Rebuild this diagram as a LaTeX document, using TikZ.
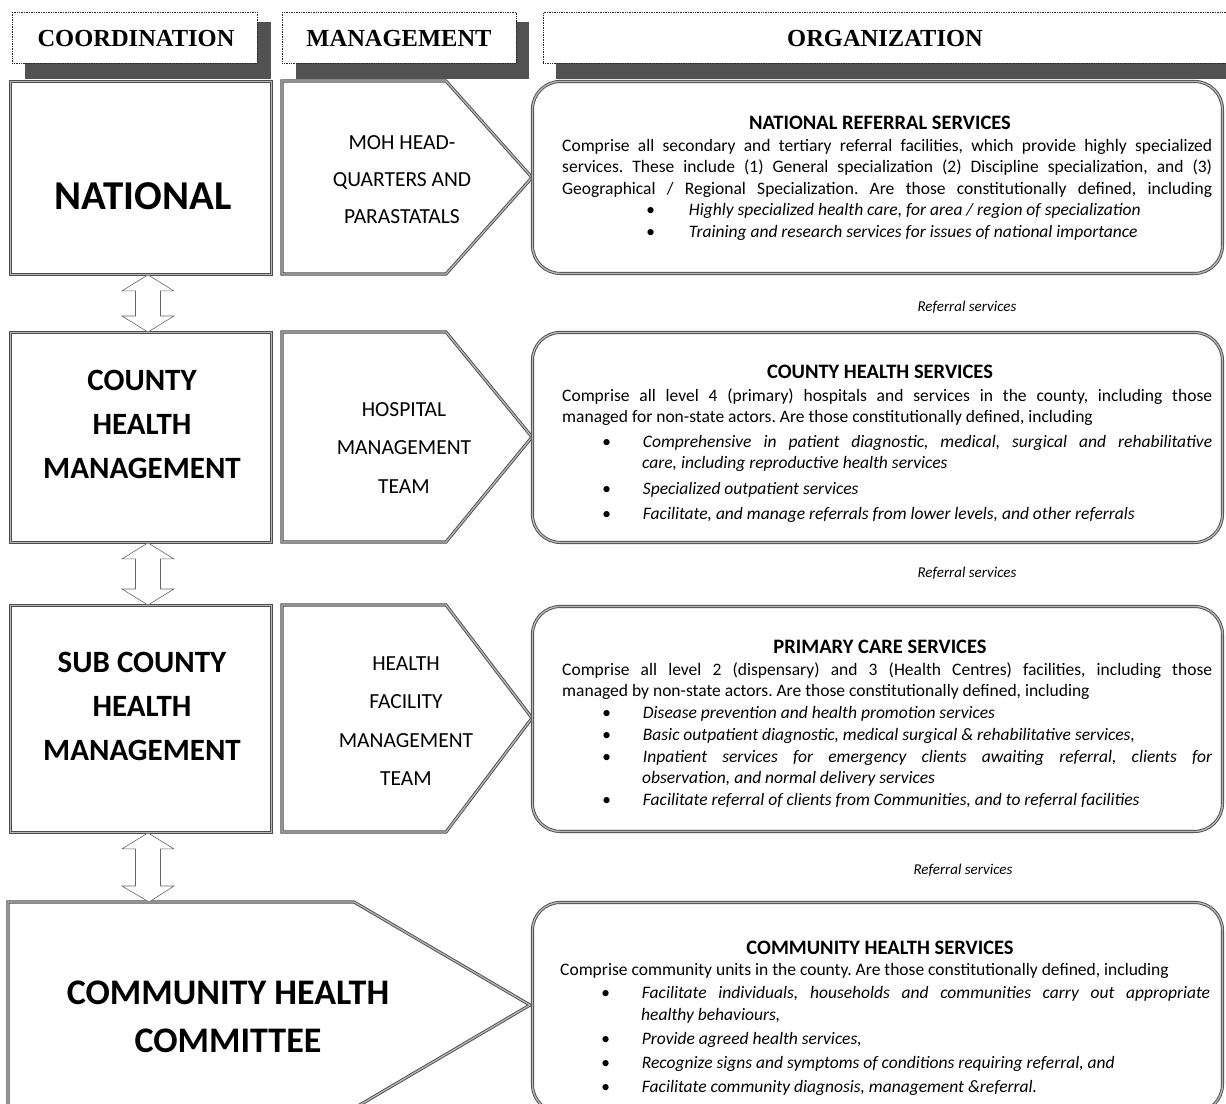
\documentclass[tikz,border=0pt]{standalone}
\usepackage{fontspec}
\setmainfont{Carlito}
\newfontfamily\hdrfont{Liberation Serif}
\usetikzlibrary{calc}
\newcommand\bodysetup{\tolerance=10000 \hyphenpenalty=10000 \emergencystretch=20pt \frenchspacing\relax}
\newenvironment{blist}[4]{\begin{list}{\textbullet}{\setlength\leftmargin{#1}\setlength\labelwidth{8pt}\setlength\labelsep{#2}\setlength\itemsep{#3}\setlength\topsep{#4}\setlength\parsep{0pt}\setlength\partopsep{0pt}\setlength\itemindent{0pt}\setlength\listparindent{0pt}}\itshape}{\end{list}}
\newcommand\updown[2]{%
  \draw[dblarrow] let \p1=(#1), \p2=(#2) in
   (\x1,\y1) -- (\x1+26pt,\y1-16pt) -- (\x1+12.5pt,\y1-16pt) -- (\x1+12.5pt,\y2+16pt)
   -- (\x1+26pt,\y2+16pt) -- (\x2,\y2) -- (\x1-26pt,\y2+16pt) -- (\x1-12.5pt,\y2+16pt)
   -- (\x1-12.5pt,\y1-16pt) -- (\x1-26pt,\y1-16pt) -- cycle;}
\begin{document}
\begin{tikzpicture}[x=1pt,y=-1pt,
  hdrshadow/.style={fill=black!68, draw=none},
  hdrbox/.style={fill=white, draw=black!85, densely dotted, line width=0.7pt},
  hdrtxt/.style={font=\hdrfont\bfseries\fontsize{24.5}{28}\selectfont},
  frame/.style={draw=black!70, line width=0.9pt, double=black!28, double distance=1.3pt, fill=white},
  box/.style={frame, rectangle, inner sep=0pt, anchor=north west},
  orgbox/.style={frame, rectangle, rounded corners=28pt, inner sep=0pt, anchor=north west},
  dblarrow/.style={draw=black!60, line width=0.6pt, fill=white},
  bigtxt/.style={font=\bfseries\fontsize{41}{46}\selectfont, align=center},
  lefttxt/.style={font=\bfseries\fontsize{31}{44}\selectfont, align=center},
  commtxt/.style={font=\bfseries\fontsize{36}{48}\selectfont, align=center},
  mgmttxt/.style={font=\fontsize{21.5}{37}\selectfont, align=center},
  mgmttxtb/.style={font=\fontsize{21.5}{38.5}\selectfont, align=center},
  titletxt/.style={font=\bfseries\fontsize{20.5}{24}\selectfont},
  bodytxt/.style={text width=650pt, align=justify, inner sep=0pt, anchor=north west,
     font=\fontsize{17.5}{21.5}\selectfont\bodysetup},
  reftxt/.style={font=\itshape\fontsize{15}{18}\selectfont}
]
\clip (0,0) rectangle (1226,1103);
\useasboundingbox (0,0) rectangle (1226,1103);
\fill[white] (0,0) rectangle (1226,1103);

% ---------- headers ----------
\fill[hdrshadow] (25,22) rectangle (271,79);
\node[hdrbox, rectangle, minimum width=245pt, minimum height=51pt, anchor=north west] (hcoord) at (12,12) {};
\node[hdrtxt] (hcoordt) at (136,39) {COORDINATION};
\fill[hdrshadow] (296,22) rectangle (529,79);
\node[hdrbox, rectangle, minimum width=234pt, minimum height=51pt, anchor=north west] (hman) at (282,12) {};
\node[hdrtxt] (hmant) at (399,39) {MANAGEMENT};
\fill[hdrshadow] (556,22) rectangle (1240,79);
\node[hdrbox, rectangle, minimum width=700pt, minimum height=51pt, anchor=north west] (horg) at (543,12) {};
\node[hdrtxt] (horgt) at (885,39) {ORGANIZATION};

% ---------- row 1: national ----------
\node[box, minimum width=261pt, minimum height=193pt] (nat) at (10,81) {};
\node[bigtxt] (natt) at (143,196) {NATIONAL};
\draw[frame] (282,81) -- (446,81) -- (532,177.5) -- (446,274) -- (282,274) -- cycle;
\node[mgmttxt] (moh) at (402,180) {MOH HEAD-\\QUARTERS AND\\PARASTATALS};
\node[orgbox, minimum width=690pt, minimum height=192pt] (nrs) at (532,81) {};
\node[titletxt] (nrst) at (880,123) {NATIONAL REFERRAL SERVICES};
\node[bodytxt] (nrsb) at (562,139) {{\parfillskip=0pt Comprise all secondary and tertiary referral facilities, which provide highly specialized\linebreak services. These include (1) General specialization (2) Discipline specialization, and (3)\linebreak Geographical / Regional Specialization. Are those constitutionally defined, including\par}
\begin{blist}{126pt}{34pt}{0pt}{0pt}
\item Highly specialized health care, for area / region of specialization
\item Training and research services for issues of national importance
\end{blist}};
\node[reftxt] (ref1) at (967,307) {Referral services};

% ---------- row 2: county ----------
\node[box, minimum width=261pt, minimum height=210pt] (cty) at (10,332) {};
\node[lefttxt] (ctyt) at (142,424) {COUNTY\\HEALTH\\MANAGEMENT};
\draw[frame] (282,332) -- (446,332) -- (532,437) -- (446,542) -- (282,542) -- cycle;
\node[mgmttxtb] (hmt) at (404,448) {HOSPITAL\\MANAGEMENT\\TEAM};
\node[orgbox, minimum width=690pt, minimum height=210pt] (chs) at (532,332) {};
\node[titletxt] (chst) at (880,372) {COUNTY HEALTH SERVICES};
\node[bodytxt] (chsb) at (562,388) {Comprise all level 4 (primary) hospitals and services in the county, including those\linebreak managed for non-state actors. Are those constitutionally defined, including
\begin{blist}{80pt}{32pt}{4pt}{3pt}
\item Comprehensive in patient diagnostic, medical, surgical and rehabilitative\linebreak care, including reproductive health services
\item Specialized outpatient services
\item Facilitate, and manage referrals from lower levels, and other referrals
\end{blist}};
\node[reftxt] (ref2) at (967,573) {Referral services};

% ---------- row 3: sub county ----------
\node[box, minimum width=261pt, minimum height=227pt] (sub) at (10,605) {};
\node[lefttxt] (subt) at (142,706) {SUB COUNTY\\HEALTH\\MANAGEMENT};
\draw[frame] (282,605) -- (446,605) -- (532,718) -- (446,832) -- (282,832) -- cycle;
\node[mgmttxtb] (hfmt) at (406,721) {HEALTH\\FACILITY\\MANAGEMENT\\TEAM};
\node[orgbox, minimum width=690pt, minimum height=225pt] (pcs) at (532,606) {};
\node[titletxt] (pcst) at (880,647) {PRIMARY CARE SERVICES};
\node[bodytxt] (pcsb) at (562,662) {Comprise all level 2 (dispensary) and 3 (Health Centres) facilities, including those\linebreak managed by non-state actors. Are those constitutionally defined, including
\begin{blist}{80pt}{32pt}{0.5pt}{0pt}
\item Disease prevention and health promotion services
\item Basic outpatient diagnostic, medical surgical \& rehabilitative services,
\item Inpatient services for emergency clients awaiting referral, clients for\linebreak observation, and normal delivery services
\item Facilitate referral of clients from Communities, and to referral facilities
\end{blist}};
\node[reftxt] (ref3) at (963,870) {Referral services};

% ---------- row 4: community ----------
\draw[frame] (8,1120) -- (8,902) -- (354,902) -- (530,1005) -- (334,1120);
\coordinate (com) at (142,902);
\node[commtxt] (comt) at (228,1017) {COMMUNITY HEALTH\\COMMITTEE};
\node[orgbox, minimum width=690pt, minimum height=210pt] (cms) at (532,902) {};
\node[titletxt] (cmst) at (880,948) {COMMUNITY HEALTH SERVICES};
\node[bodytxt] (cmsb) at (560,963) {Comprise community units in the county. Are those constitutionally defined, including
\begin{blist}{81pt}{32pt}{2.5pt}{2pt}
\item Facilitate individuals, households and communities carry out appropriate\linebreak healthy behaviours,
\item Provide agreed health services,
\item Recognize signs and symptoms of conditions requiring referral, and
\item Facilitate community diagnosis, management \&referral.
\end{blist}};

% ---------- double arrows ----------
\updown{$(nat.south)+(7,0)$}{$(cty.north)+(7,0)$}
\updown{$(cty.south)+(7,0)$}{$(sub.north)+(7,0)$}
\updown{$(sub.south)+(7,0)$}{$(com)+(7,0)$}
\end{tikzpicture}
\end{document}
